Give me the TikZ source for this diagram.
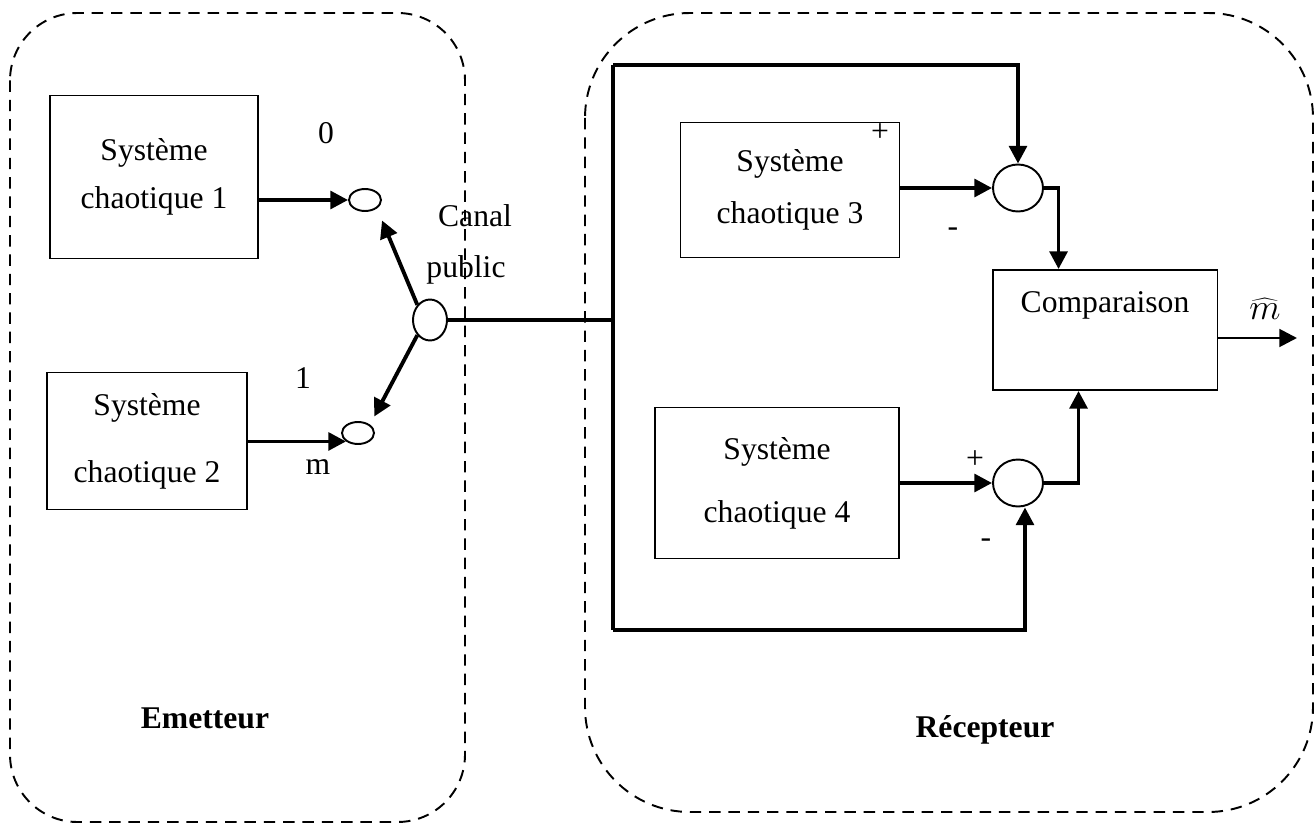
\documentclass[tikz,border=0pt]{standalone}
\usepackage{fontspec}
\setmainfont{Liberation Serif}
\usetikzlibrary{arrows.meta, shapes.geometric}

\begin{document}
\begin{tikzpicture}[x=0.02cm, y=-0.02cm,
		zone/.style={draw, dash pattern=on 6.5pt off 4.5pt, line width=1.1pt},
		block/.style={draw, line width=1.1pt, align=center, inner sep=0pt,
			font=\fontsize{18}{22}\selectfont},
		sum/.style={draw, ellipse, line width=1.1pt, inner sep=0pt},
		lbl/.style={inner sep=0pt, font=\fontsize{18}{22}\selectfont},
		arrow/.style={-{Triangle[length=10pt, width=10pt]}, line width=2.2pt},
		bus/.style={line width=2.2pt}
	]
		\useasboundingbox (0,0) rectangle (1315,824);
		% zones
		\draw[zone, rounded corners=1.35cm] (10,13) rectangle (465,822);
		\draw[zone, rounded corners=2.1cm] (585,13) rectangle (1313,812);

		% emetteur
		\node[block, minimum width=4.16cm, minimum height=3.26cm] (sys1) at (154,177) {Système\\[5pt]chaotique 1};
		\node[block, minimum width=4cm, minimum height=2.74cm] (sys2) at (147,441) {Système\\[16pt]chaotique 2};
		\node[sum, minimum width=0.64cm, minimum height=0.44cm] (e0) at (365,200) {};
		\node[sum, minimum width=0.64cm, minimum height=0.44cm] (e1) at (358,433) {};
		\node[sum, minimum width=0.68cm, minimum height=0.82cm] (sw) at (430,320) {};
		\node[lbl] (l0) at (326,133) {0};
		\node[lbl] (l1) at (303,378) {1};
		\node[lbl] (lm) at (318,467) {m};
		\node[lbl] (canal) at (475,216) {Canal};
		\node[lbl] (public) at (466,270) {public};
		\node[lbl, font=\fontsize{18}{22}\selectfont\bfseries] (emet) at (205,718) {Emetteur};

		\draw[arrow] (sys1.east |- e0) -- (e0.west);
		\draw[arrow] (sys2.east |- e1.south west) -- (e1.south west);
		\draw[arrow, shorten >=0.26cm] (sw.north west) -- (e0.south east);
		\draw[arrow, shorten >=0.18cm] (sw.south west) -- (e1.north east);

		% recepteur
		\coordinate (bt) at (613,65);
		\coordinate (bb) at (613,630);
		\node[block, minimum width=4.38cm, minimum height=2.7cm] (sys3) at (790,190) {Système\\[8pt]chaotique 3};
		\node[block, minimum width=4.88cm, minimum height=3.02cm] (sys4) at (777,483) {Système\\[14pt]chaotique 4};
		\node[sum, minimum width=1cm, minimum height=0.94cm] (sa) at (1018,188) {};
		\node[sum, minimum width=1cm, minimum height=0.94cm] (sb) at (1018,483) {};
		\node[block, minimum width=4.5cm, minimum height=2.4cm, text depth=2.4cm, text height=0pt] (cmp) at (1105,330) {};
		\node[lbl] (cmptxt) at (1105,305) {Comparaison};
		\coordinate (out) at (1297,338);
		\node[lbl, font=\fontsize{21}{24}\selectfont] (mhat) at (1265,309) {$\widehat{m}$};
		\node[lbl] (pa) at (880,133) {+};
		\node[lbl] (ma) at (953,232) {-};
		\node[lbl] (pb) at (975,460) {+};
		\node[lbl] (mb) at (986,543) {-};
		\node[lbl, font=\fontsize{18}{22}\selectfont\bfseries] (recep) at (985,730) {Récepteur};

		\draw[bus] (sw.east) -- (bt |- sw.east);
		\draw[bus] (bt) -- (bb);
		\draw[arrow] (bt) -| (sa.north);
		\draw[arrow] (bb) -| ([xshift=0.14cm]sb.south);
		\draw[arrow] (sys3.east |- sa) -- (sa.west);
		\draw[arrow] (sys4.east |- sb) -- (sb.west);
		\draw[arrow] (sa.east) -| ([xshift=1.34cm]cmp.north west);
		\draw[arrow] (sb.east) -| ([xshift=1.74cm]cmp.south west);
		\draw[arrow, line width=1.6pt] (cmp.east |- out) -- (out);
	\end{tikzpicture}
\end{document}
